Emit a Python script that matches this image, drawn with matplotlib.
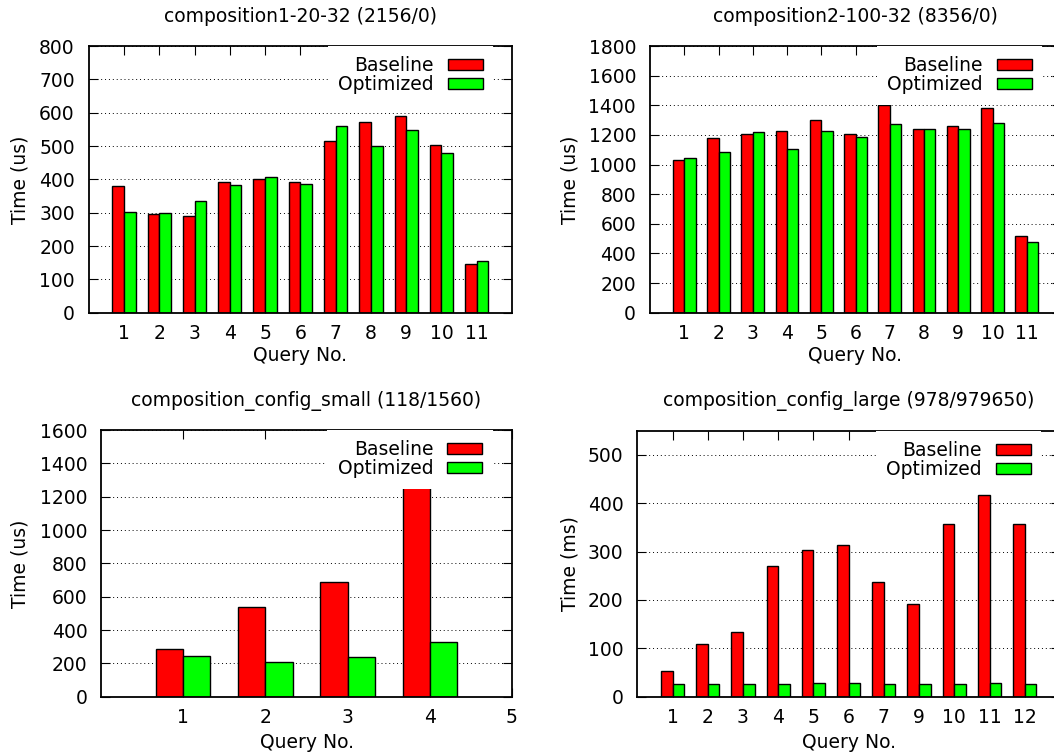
import matplotlib
matplotlib.use("Agg")
import matplotlib.pyplot as plt
from matplotlib.patches import Patch
import numpy as np

plt.rcParams['font.family'] = ['DejaVu Sans']

# ---- data ----
series_names = ["Baseline", "Optimized"]
colors = ["#ff0000", "#00ff00"]

titles = ["composition1-20-32 (2156/0)", "composition2-100-32 (8356/0)",
          "composition_config_small (118/1560)", "composition_config_large (978/979650)"]
ylabels = ["Time (us)", "Time (us)", "Time (us)", "Time (ms)"]

q1 = ["1", "2", "3", "4", "5", "6", "7", "8", "9", "10", "11"]
p1_base = [381, 295, 291, 391, 401, 393, 516, 571, 591, 503, 145]
p1_opt = [303, 300, 335, 382, 406, 385, 560, 500, 548, 478, 155]

q2 = ["1", "2", "3", "4", "5", "6", "7", "8", "9", "10", "11"]
p2_base = [1033, 1179, 1208, 1228, 1300, 1208, 1402, 1240, 1262, 1384, 515]
p2_opt = [1042, 1087, 1217, 1105, 1224, 1186, 1276, 1237, 1240, 1280, 477]

q3 = ["1", "2", "3", "4", "5"]
p3_base = [286, 536, 690, 1260]
p3_opt = [242, 206, 236, 330]

q4 = ["1", "2", "3", "4", "5", "6", "7", "9", "10", "11", "12"]
p4_base = [54, 108, 133, 271, 303, 314, 237, 192, 357, 418, 358]
p4_opt = [27, 27, 27, 27, 28, 28, 27, 27, 27, 28, 27]

ymax = [800, 1800, 1600, 550]
ystep = [100, 200, 200, 100]
ytop_tick = [800, 1800, 1600, 500]
xmax = [12, 12, 5, 12]

panels = [(q1, p1_base, p1_opt), (q2, p2_base, p2_opt),
          (q3, p3_base, p3_opt), (q4, p4_base, p4_opt)]

# axes boxes in pixels: left, right, top, bottom
W, H = 1054, 752
boxes = [(88.7, 512, 46, 312.7), (650, 1061, 46, 312.7),
         (101.3, 511.7, 430, 696.7), (637.3, 1060, 430.7, 696.7)]
ylabel_x = [20, 570, 20, 570]
xlabel_y = [355, 355, 742, 742]

fig = plt.figure(figsize=(W / 100, H / 100), dpi=100)
FS = 13.5
bw = 0.33

for i, ((qs, base, opt), (l, r, t, b)) in enumerate(zip(panels, boxes)):
    ax = fig.add_axes([l / W, 1 - b / H, (r - l) / W, (b - t) / H])
    x = np.arange(1, len(base) + 1)
    ax.bar(x - bw / 2, base, width=bw, color=colors[0], edgecolor='black', linewidth=1.0, zorder=2)
    ax.bar(x + bw / 2, opt, width=bw, color=colors[1], edgecolor='black', linewidth=1.0, zorder=2)
    ax.set_xlim(0, xmax[i])
    ax.set_ylim(0, ymax[i])
    ax.set_yticks(np.arange(0, ytop_tick[i] + 1, ystep[i]))
    ax.set_xticks(np.arange(1, len(qs) + 1))
    ax.set_xticklabels(qs)
    ax.tick_params(direction='in', length=6.7, width=0.8, top=True, right=True,
                   labelsize=FS, pad=10)
    ax.tick_params(axis='x', pad=8)
    for s in ax.spines.values():
        s.set_linewidth(1.3)
    ax.set_axisbelow(True)
    ax.yaxis.grid(True, linestyle=(0, (1, 3)), color='black', linewidth=0.7)
    ax.set_title(titles[i], fontsize=FS, pad=17.5)
    ax.set_ylabel(ylabels[i], fontsize=FS, va='center', ha='center')
    ax.yaxis.set_label_coords(ylabel_x[i] / W, 1 - ((t + b) / 2) / H, transform=fig.transFigure)
    ax.set_xlabel("Query No.", fontsize=FS, va='center')
    ax.xaxis.set_label_coords(0.5, (b - xlabel_y[i]) / (b - t))
    handles = [Patch(facecolor=colors[0], edgecolor='black', linewidth=1.0),
               Patch(facecolor=colors[1], edgecolor='black', linewidth=1.0)]
    leg = ax.legend(handles, series_names, loc='upper right',
                    bbox_to_anchor=(1 - 19 / (r - l), 1.0), borderaxespad=0,
                    markerfirst=False, frameon=True, fancybox=False,
                    facecolor='white', edgecolor='none', framealpha=1,
                    fontsize=FS, handlelength=1.87, handleheight=0.57,
                    handletextpad=0.75, labelspacing=0.0, borderpad=0.55)
    leg.get_frame().set_linewidth(0)

fig.savefig("out.png", dpi=100)
